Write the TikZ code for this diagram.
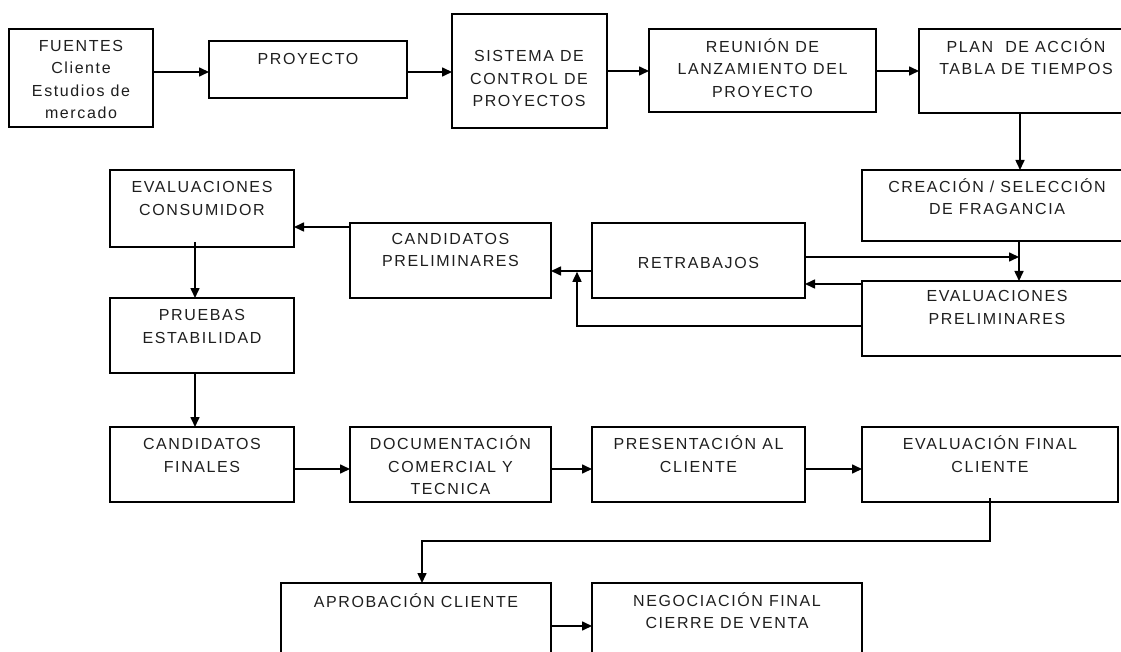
\documentclass[tikz,border=0pt]{standalone}
\usepackage{fontspec}
\setmainfont{Liberation Sans}[LetterSpace=10]
\usetikzlibrary{arrows.meta}
\definecolor{txtc}{RGB}{30,30,30}
\tikzset{
  box/.style={draw=black, line width=1.6pt, rectangle, inner sep=0pt, outer sep=0pt, anchor=north west},
  txt/.style={font=\fontsize{16}{22.5}\selectfont, align=center, anchor=north, inner sep=0pt, text=txtc},
  arr/.style={line width=1.6pt, draw=black, -{Triangle[length=10pt,width=9pt]}},
}
\begin{document}
\begin{tikzpicture}[x=1pt,y=-1pt]
\useasboundingbox (0,0) rectangle (1121,652);
\clip (0,0) rectangle (1121,652);
% boxes
\node[box, minimum width=144pt, minimum height=98pt] (fu) at (9,29) {};
\node[box, minimum width=198pt, minimum height=57pt] (pr) at (209,41) {};
\node[box, minimum width=155pt, minimum height=114pt] (si) at (452,14) {};
\node[box, minimum width=227pt, minimum height=83pt] (re) at (649,29) {};
\node[box, minimum width=214pt, minimum height=84pt] (pl) at (919,29) {};
\node[box, minimum width=271pt, minimum height=71pt] (cr) at (862,170) {};
\node[box, minimum width=271pt, minimum height=75pt] (ep) at (862,281) {};
\node[box, minimum width=184pt, minimum height=77pt] (ec) at (110,170) {};
\node[box, minimum width=201pt, minimum height=75pt] (cp) at (350,223) {};
\node[box, minimum width=213pt, minimum height=75pt] (rt) at (592,223) {};
\node[box, minimum width=184pt, minimum height=75pt] (pu) at (110,298) {};
\node[box, minimum width=184pt, minimum height=75pt] (cf) at (110,427) {};
\node[box, minimum width=201pt, minimum height=75pt] (dc) at (350,427) {};
\node[box, minimum width=213pt, minimum height=75pt] (ps) at (592,427) {};
\node[box, minimum width=256pt, minimum height=75pt] (ef) at (862,427) {};
\node[box, minimum width=270pt, minimum height=97pt] (ap) at (281,583) {};
\node[box, minimum width=270pt, minimum height=97pt] (ng) at (592,583) {};
% texts (first line centre = anchor + 10)
\node[txt] (fut) at (81,35.5) {\strut FUENTES\\Cliente\\Estudios de\\mercado};
\node[txt] (prt) at (308,48.5) {\strut PROYECTO};
\node[txt] (sit) at (529,46) {\strut SISTEMA DE\\CONTROL DE\\PROYECTOS};
\node[txt] (ret) at (762.5,36.5) {\strut REUNIÓN DE\\LANZAMIENTO DEL\\PROYECTO};
\node[txt] (plt) at (1026,36.5) {\strut PLAN\ \ DE ACCIÓN\\TABLA DE TIEMPOS};
\node[txt] (crt) at (997,176.5) {\strut CREACIÓN / SELECCIÓN\\DE FRAGANCIA};
\node[txt] (ect) at (202,177) {\strut EVALUACIONES\\CONSUMIDOR};
\node[txt] (cpt) at (450.5,228.5) {\strut CANDIDATOS\\PRELIMINARES};
\node[txt] (rtt) at (698.5,252.5) {\strut RETRABAJOS};
\node[txt] (ept) at (997,286) {\strut EVALUACIONES\\PRELIMINARES};
\node[txt] (put) at (202,305) {\strut PRUEBAS\\ESTABILIDAD};
\node[txt] (cft) at (202,434) {\strut CANDIDATOS\\FINALES};
\node[txt] (dct) at (450.5,434) {\strut DOCUMENTACIÓN\\COMERCIAL Y\\TECNICA};
\node[txt] (pst) at (698.5,434) {\strut PRESENTACIÓN AL\\CLIENTE};
\node[txt] (eft) at (990,434) {\strut EVALUACIÓN FINAL\\CLIENTE};
\node[txt] (apt) at (416,592) {\strut APROBACIÓN CLIENTE};
\node[txt] (ngt) at (727,590.5) {\strut NEGOCIACIÓN FINAL\\CIERRE DE VENTA};
% helper coordinates
\coordinate (r72) at (0,72);
\coordinate (r71) at (0,71);
\coordinate (v1020) at (1020,0);
\coordinate (v1019) at (1019,0);
\coordinate (j1) at (1019,257);
\coordinate (r284) at (0,284);
\coordinate (r271) at (0,271);
\coordinate (j2) at (577,271);
\coordinate (r326) at (0,326);
\coordinate (r227) at (0,227);
\coordinate (v195) at (195,0);
\coordinate (r469) at (0,469);
\coordinate (v990) at (990,0);
\coordinate (j3) at (422,541);
\coordinate (r626) at (0,626);
% connectors
\draw[arr] (fu.east |- r72) -- (pr.west |- r72);
\draw[arr] (pr.east |- r72) -- (si.west |- r72);
\draw[arr] (si.east |- r71) -- (re.west |- r71);
\draw[arr] (re.east |- r71) -- (pl.west |- r71);
\draw[arr] (pl.south -| v1020) -- (cr.north -| v1020);
\draw[arr] (cr.south -| v1019) -- (ep.north -| v1019);
\draw[arr] (rt.east |- j1) -- (j1);
\draw[arr] (ep.west |- r284) -- (rt.east |- r284);
\draw[arr] (rt.west |- r271) -- (cp.east |- r271);
\draw[arr] (ep.west |- r326) -| ([yshift=-0.8pt]j2);
\draw[arr] (cp.west |- r227) -- (ec.east |- r227);
\draw[arr] ([yshift=5pt]ec.south -| v195) -- (pu.north -| v195);
\draw[arr] (pu.south -| v195) -- (cf.north -| v195);
\draw[arr] (cf.east |- r469) -- (dc.west |- r469);
\draw[arr] (dc.east |- r469) -- (ps.west |- r469);
\draw[arr] (ps.east |- r469) -- (ef.west |- r469);
\draw[arr] ([yshift=4pt]ef.south -| v990) |- (j3) -- (ap.north -| j3);
\draw[arr] (ap.east |- r626) -- (ng.west |- r626);
\end{tikzpicture}
\end{document}
